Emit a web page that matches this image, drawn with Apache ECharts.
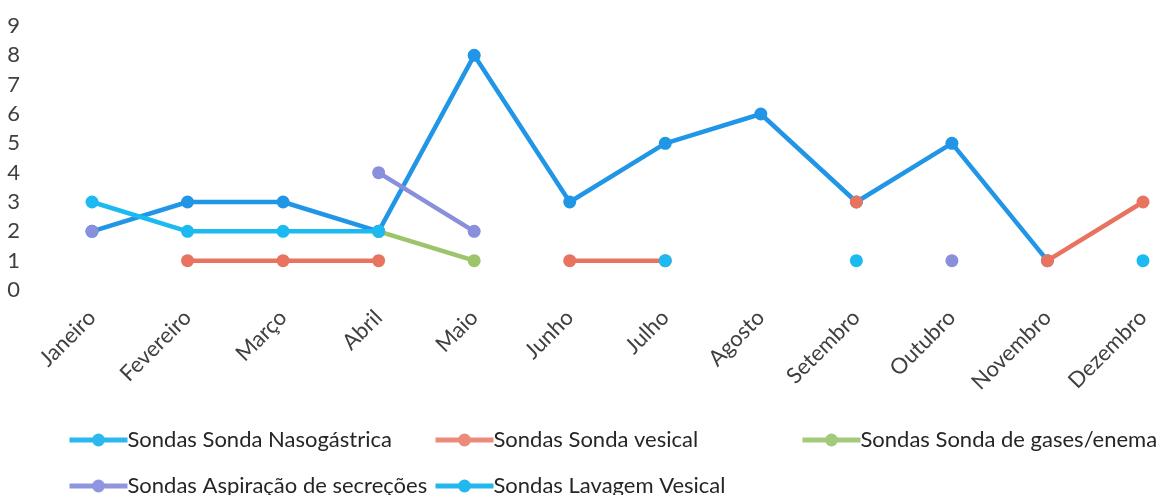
<!DOCTYPE html>
<html>
<head>
<meta charset="utf-8">
<script src="https://cdn.jsdelivr.net/npm/echarts@6/dist/echarts.min.js"></script>
<style>
html,body{margin:0;padding:0;background:#fff;}
#chart{width:1156px;height:495px;}
</style>
</head>
<body>
<div id="chart"></div>
<script>
const months = ['Janeiro','Fevereiro','Março','Abril','Maio','Junho','Julho','Agosto','Setembro','Outubro','Novembro','Dezembro'];
const yTicks = [0,1,2,3,4,5,6,7,8,9];
const nasogastrica = [2,3,3,2,8,3,5,6,3,5,1,null];
const vesical = [null,1,1,1,null,1,1,null,3,null,1,3];
const gasesEnema = [null,null,null,2,1,null,null,null,null,null,null,null];
const aspiracao = [2,null,null,4,2,null,null,null,null,1,null,null];
const lavagem = [3,2,2,2,null,null,1,null,1,null,null,1];

const names = ['Sondas Sonda Nasogástrica','Sondas Sonda vesical','Sondas Sonda de gases/enema','Sondas Aspiração de secreções','Sondas Lavagem Vesical'];
const colors = ['#2196e6','#e8735f','#9cc46a','#8a8fdc','#1cbaf0'];
const legendColors = ['#2ab8ef','#ec8a7c','#a3c97a','#8f95de','#22b8ee'];
const datas = [nasogastrica, vesical, gasesEnema, aspiracao, lavagem];
const FONT = 'Lato';

const chart = echarts.init(document.getElementById('chart'));
const legendPos = [[62,424],[428,424],[795,424],[62,470],[428,470]];
chart.setOption({
  animation:false,
  color: colors,
  grid:{left:92,right:13,top:26,bottom:205,containLabel:false},
  xAxis:{
    type:'category',
    data:months,
    boundaryGap:false,
    axisLine:{show:false},
    axisTick:{show:false},
    splitLine:{show:false},
    axisLabel:{rotate:45,margin:24,color:'#404040',fontFamily:FONT,fontSize:22,interval:0}
  },
  yAxis:{
    type:'value',
    min:yTicks[0],max:yTicks[yTicks.length-1],interval:1,
    axisLine:{show:false},axisTick:{show:false},splitLine:{show:false},
    axisLabel:{margin:72,color:'#404040',fontFamily:FONT,fontSize:22,align:'right'}
  },
  legend: names.map((n,i)=>({
    data:[n],
    left:legendPos[i][0], top:legendPos[i][1],
    itemWidth:58,itemHeight:16,itemGap:0,
    lineStyle:{width:5,color:legendColors[i]},
    itemStyle:{color:legendColors[i]},
    textStyle:{color:'#262626',fontFamily:FONT,fontSize:22,padding:[0,0,0,-5]},
    selectedMode:false
  })),
  series: names.map((n,i)=>({
    name:n,
    type:'line',
    data:datas[i],
    connectNulls:false,
    symbol:'circle',
    symbolSize:13,
    showAllSymbol:true,
    lineStyle:{width:4.5,color:colors[i]},
    itemStyle:{color:colors[i]},
    z:2+i
  }))
});
</script>
</body>
</html>
